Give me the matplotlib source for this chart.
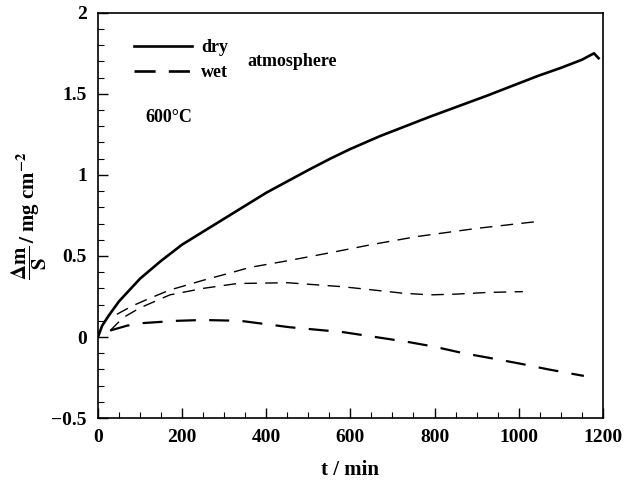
import matplotlib
matplotlib.use("Agg")
import matplotlib.pyplot as plt
from matplotlib.lines import Line2D
from matplotlib.ticker import MultipleLocator

plt.rcParams['font.family'] = ['Liberation Serif', 'DejaVu Serif']
plt.rcParams['mathtext.fontset'] = 'stix'

dry_t = [0, 10, 25, 50, 100, 150, 200, 250, 300, 350, 400, 450, 500, 552, 600, 671, 790, 926, 1045, 1100, 1150, 1179, 1190]
dry_y = [0, 0.07, 0.13, 0.22, 0.36, 0.47, 0.57, 0.65, 0.73, 0.81, 0.89, 0.96, 1.03, 1.10, 1.16, 1.24, 1.36, 1.49, 1.61, 1.66, 1.71, 1.75, 1.72]

wet1_t = [45, 80, 124, 171, 250, 321, 362, 450, 552, 650, 759, 900, 1036]
wet1_y = [0.14, 0.19, 0.24, 0.29, 0.35, 0.40, 0.43, 0.47, 0.52, 0.57, 0.62, 0.67, 0.71]

wet2_t = [29, 60, 100, 171, 250, 331, 450, 583, 726, 790, 855, 926, 1010]
wet2_y = [0.04, 0.12, 0.18, 0.26, 0.30, 0.33, 0.335, 0.31, 0.27, 0.26, 0.265, 0.275, 0.28]

wet3_t = [29, 69, 107, 188, 250, 338, 457, 583, 736, 800, 869, 933, 1005, 1071, 1155]
wet3_y = [0.04, 0.07, 0.086, 0.10, 0.105, 0.10, 0.06, 0.03, -0.03, -0.06, -0.10, -0.13, -0.165, -0.20, -0.24]

fig = plt.figure(figsize=(6.24, 4.93), dpi=100)
ax = fig.add_axes([0.157, 0.152, 0.809, 0.822])

ax.plot(dry_t, dry_y, color='black', lw=1.9)
ax.plot(wet1_t, wet1_y, color='black', lw=1.0, dashes=(9, 6))
ax.plot(wet2_t, wet2_y, color='black', lw=1.0, dashes=(9, 6))
ax.plot(wet3_t, wet3_y, color='black', lw=1.6, dashes=(9, 6))

ax.set_xlim(0, 1200)
ax.set_ylim(-0.5, 2)
ax.xaxis.set_major_locator(MultipleLocator(200))
ax.xaxis.set_minor_locator(MultipleLocator(50))
ax.yaxis.set_minor_locator(MultipleLocator(0.1))
ax.set_yticks([-0.5, 0, 0.5, 1, 1.5, 2])
ax.set_yticklabels(['\u22120.5', '0', '0.5', '1', '1.5', '2'])
ax.tick_params(which='both', direction='in', top=False, right=False)
ax.tick_params(which='major', length=7, width=1.0, labelsize=14, pad=8)
ax.tick_params(which='minor', length=4, width=0.8)
for lab in ax.get_xticklabels() + ax.get_yticklabels():
    lab.set_fontweight('bold')
for s in ax.spines.values():
    s.set_linewidth(1.2)

ax.set_xlabel('t / min', fontsize=15, fontweight='bold', labelpad=10)
ax.set_ylabel(r'$\dfrac{\mathbf{\Delta m}}{\mathbf{S}}\,\mathbf{/}$' + ' mg cm$^{\\mathbf{-2}}$',
              fontsize=15, fontweight='bold', labelpad=2)

handles = [Line2D([], [], color='black', lw=1.9),
           Line2D([], [], color='black', lw=1.9, dashes=(8, 5))]
leg = ax.legend(handles, ['dry', 'wet'], loc='upper left', bbox_to_anchor=(0.04, 0.975),
                frameon=False, handlelength=3.2, handletextpad=0.5, labelspacing=0.45,
                prop={'weight': 'bold', 'size': 13})
ax.text(0.295, 0.879, 'atmosphere', transform=ax.transAxes, fontsize=13, fontweight='bold', va='center')
ax.text(0.093, 0.741, '600°C', transform=ax.transAxes, fontsize=13, fontweight='bold', va='center')

fig.savefig('out.png', dpi=100)
